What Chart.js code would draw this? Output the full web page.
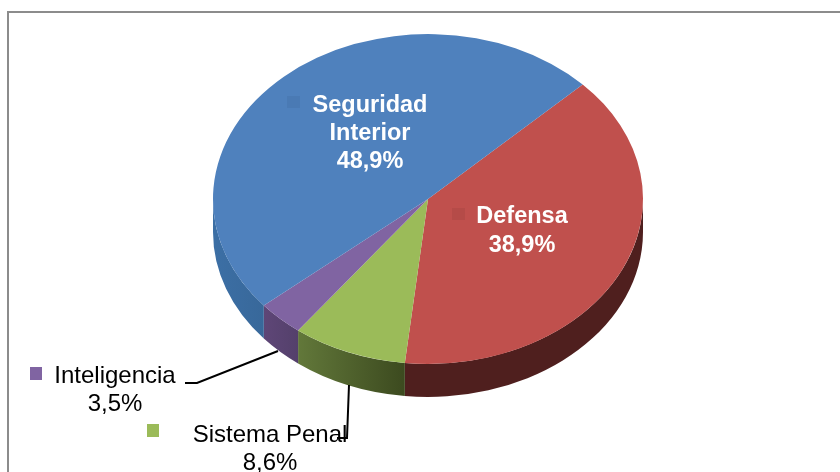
<!DOCTYPE html>
<html lang="es">
<head>
<meta charset="utf-8">
<title>Presupuesto</title>
<script src="https://cdn.jsdelivr.net/npm/chart.js@4/dist/chart.umd.min.js"></script>
<style>
    html, body { margin: 0; background: #fff; }
    canvas { display: block; }
</style>
</head>
<body>
<canvas id="pie" width="840" height="472"></canvas>
<script>
const categories = ['Defensa', 'Sistema Penal', 'Inteligencia', 'Seguridad Interior'];
const shares = [38.9, 8.6, 3.5, 48.9];
const topColors = ['#c0504d', '#9bbb59', '#8064a2', '#4f81bd'];
const wallLight = ['#4f1f1e', '#62783a', '#5e4677', '#3c6fa5'];
const wallDark = ['#4f1f1e', '#3c4a1f', '#54406b', '#38689a'];

const squash = 0.767;
const wallDepth = 33;
const centerY = 199;
const TWO_PI = Math.PI * 2;

function pctText(value) {
    return value.toFixed(1).replace('.', ',') + '%';
}

function drawWall(ctx, arc, index) {
    const span = arc.endAngle - arc.startAngle;
    const start = ((arc.startAngle % TWO_PI) + TWO_PI) % TWO_PI;
    const drop = wallDepth / squash;

    [0, TWO_PI].forEach(function (shift) {
        const from = Math.max(start, shift);
        const to = Math.min(start + span, shift + Math.PI);
        if (to <= from) return;

        const xA = arc.x + Math.cos(from) * arc.outerRadius;
        const xB = arc.x + Math.cos(to) * arc.outerRadius;
        const gradient = ctx.createLinearGradient(Math.min(xA, xB), 0, Math.max(xA, xB), 0);
        gradient.addColorStop(0, wallLight[index]);
        gradient.addColorStop(1, wallDark[index]);

        ctx.beginPath();
        ctx.arc(arc.x, arc.y, arc.outerRadius, from, to);
        ctx.arc(arc.x, arc.y + drop, arc.outerRadius, to, from, true);
        ctx.closePath();
        ctx.fillStyle = gradient;
        ctx.fill();
    });
}

function textBlock(ctx, lines, x, y, lineHeight) {
    lines.forEach(function (line, i) {
        ctx.fillText(line, x, y + i * lineHeight);
    });
}

function leader(ctx, points) {
    ctx.beginPath();
    points.forEach(function (p, i) {
        if (i === 0) ctx.moveTo(p[0], p[1]);
        else ctx.lineTo(p[0], p[1]);
    });
    ctx.strokeStyle = '#000';
    ctx.lineWidth = 2;
    ctx.stroke();
}

const tiltPlugin = {
    id: 'tilt',
    beforeDatasetsDraw(chart) {
        const ctx = chart.ctx;
        const arcs = chart.getDatasetMeta(0).data;
        ctx.save();
        ctx.translate(0, centerY);
        ctx.scale(1, squash);
        ctx.translate(0, -arcs[0].y);
        arcs.forEach(function (arc, i) {
            drawWall(ctx, arc, i);
        });
    },
    afterDatasetsDraw(chart) {
        chart.ctx.restore();
    }
};

const labelsPlugin = {
    id: 'sliceLabels',
    afterDraw(chart) {
        const ctx = chart.ctx;
        ctx.save();

        ctx.strokeStyle = '#8c8c8c';
        ctx.lineWidth = 2;
        ctx.strokeRect(8, 12, 850, 480);

        // cuadritos de leyenda
        ctx.fillStyle = 'rgba(40, 70, 110, 0.1)';
        ctx.fillRect(287, 96, 13, 12);
        ctx.fillStyle = 'rgba(110, 40, 40, 0.12)';
        ctx.fillRect(452, 208, 13, 12);
        ctx.fillStyle = topColors[2];
        ctx.fillRect(30, 367, 12, 13);
        ctx.fillStyle = topColors[1];
        ctx.fillRect(147, 424, 12, 13);

        leader(ctx, [[278, 351], [197, 383], [185, 383]]);
        leader(ctx, [[349, 385], [347, 438], [337, 438]]);

        ctx.textAlign = 'center';
        ctx.textBaseline = 'alphabetic';

        ctx.font = 'bold 23.5px "Liberation Sans"';
        ctx.fillStyle = '#fff';
        textBlock(ctx, ['Seguridad', 'Interior', pctText(shares[3])], 370, 112, 28);
        textBlock(ctx, [categories[0], pctText(shares[0])], 522, 223, 29);

        ctx.font = '24px "Liberation Sans"';
        ctx.fillStyle = '#000';
        textBlock(ctx, [categories[2], pctText(shares[2])], 115, 383, 28);
        textBlock(ctx, [categories[1], pctText(shares[1])], 270, 442, 28);

        ctx.restore();
    }
};

new Chart(document.getElementById('pie'), {
    type: 'pie',
    data: {
        labels: categories,
        datasets: [{
            data: shares,
            backgroundColor: topColors,
            borderWidth: 0
        }]
    },
    options: {
        responsive: false,
        animation: false,
        rotation: 46,
        layout: {
            padding: { left: 213, right: 197, top: 21, bottom: 21 }
        },
        plugins: {
            legend: { display: false },
            tooltip: { enabled: false }
        }
    },
    plugins: [tiltPlugin, labelsPlugin]
});
</script>
</body>
</html>
